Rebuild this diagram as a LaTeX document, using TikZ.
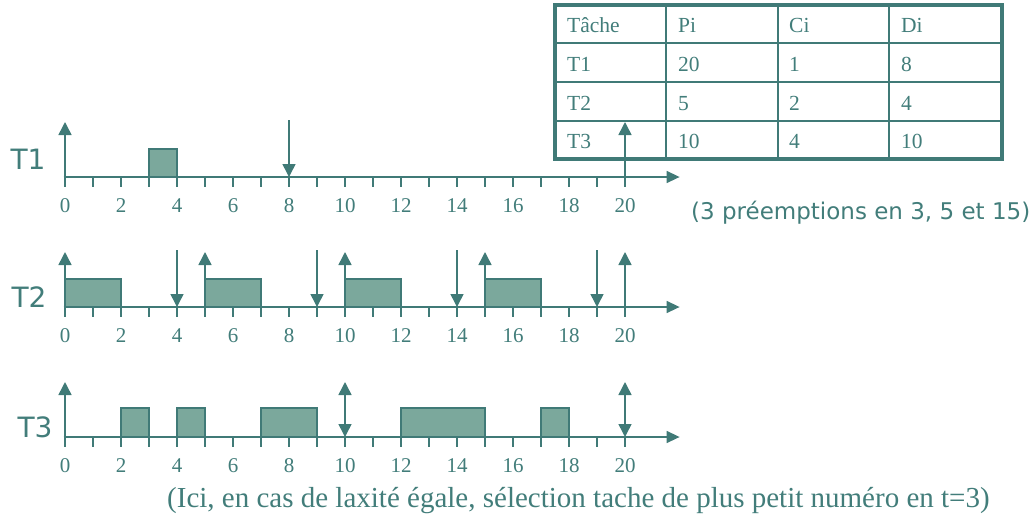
\documentclass[tikz,border=0pt]{standalone}
\usepackage{fontspec}
\setmainfont{Liberation Serif}
\newfontfamily\labelsans{DejaVu Sans}
\usetikzlibrary{arrows.meta}

\definecolor{tealline}{RGB}{64,122,119}
\definecolor{tealtext}{RGB}{66,125,122}
\definecolor{runfill}{RGB}{123,168,156}

\tikzset{
  tip/.tip={Triangle[length=13pt,width=13pt]},
  axisline/.style={draw=tealline,line width=1.5pt,-{Triangle[length=13pt,width=12pt]}},
  tickline/.style={draw=tealline,line width=1.3pt},
  uparrow/.style={draw=tealline,line width=1.5pt,-tip},
  downarrow/.style={draw=tealline,line width=1.5pt,-tip},
  bothways/.style={draw=tealline,line width=1.5pt,tip-tip},
  runbox/.style={draw=tealline,fill=runfill,line width=1.5pt},
  ticknum/.style={text=tealtext,font=\fontsize{21}{21}\selectfont,inner sep=0pt},
  tasklabel/.style={text=tealtext,font=\labelsans\fontsize{28}{28}\selectfont,inner sep=0pt,anchor=base},
  cell/.style={text=tealtext,font=\fontsize{21.5}{21.5}\selectfont,inner sep=0pt,anchor=base west},
  tableouter/.style={draw=tealline,line width=3.5pt},
  tableinner/.style={draw=tealline,line width=1.3pt},
  note/.style={text=tealtext,inner sep=0pt,anchor=base west},
}

\begin{document}
\begin{tikzpicture}[x=1pt,y=-1pt]
\useasboundingbox (0,0) rectangle (1036,515);

% ---- task table ----
\draw[tableinner] (666,5) -- (666,159) (778,5) -- (778,159) (889,5) -- (889,159);
\draw[tableinner] (555,43) -- (1002,43) (555,82) -- (1002,82) (555,121) -- (1002,121);
\draw[tableouter] (555,5) rectangle (1002,159);

\node[cell] (h0) at (567,32) {Tâche};
\node[cell] (h1) at (678,32) {Pi};
\node[cell] (h2) at (789,32) {Ci};
\node[cell] (h3) at (901,32) {Di};
\node[cell] (a0) at (567,71) {T1};
\node[cell] (a1) at (678,71) {20};
\node[cell] (a2) at (789,71) {1};
\node[cell] (a3) at (901,71) {8};
\node[cell] (b0) at (567,110) {T2};
\node[cell] (b1) at (678,110) {5};
\node[cell] (b2) at (789,110) {2};
\node[cell] (b3) at (901,110) {4};
\node[cell] (c0) at (567,148) {T3};
\node[cell] (c1) at (678,148) {10};
\node[cell] (c2) at (789,148) {4};
\node[cell] (c3) at (901,148) {10};

% ---- task labels ----
\node[tasklabel] (l1) at (28,169) {T1};
\node[tasklabel] (l2) at (29,307) {T2};
\node[tasklabel] (l3) at (35,437) {T3};

% ---- time axes (one scope per task) ----
\foreach \ay/\nm in {177/one,307/two,437/three}{
  \begin{scope}[shift={(65,\ay)},x=28pt]
    \foreach \t in {0,...,20} \draw[tickline] (\t,0) -- (\t,10);
    \draw[axisline] (-0.05,0) -- (21.95,0);
    \foreach \t in {0,2,...,20} \node[ticknum] (n\nm\t) at (\t,29) {\t};
  \end{scope}
}

% ---- T1 ----
\begin{scope}[shift={(65,177)},x=28pt]
  \draw[runbox] (3,0) rectangle (4,-28);
  \draw[uparrow] (0,0) -- (0,-55);
  \draw[downarrow] (8,-57) -- (8,0);
  \draw[uparrow] (20,0) -- (20,-55);
\end{scope}

% ---- T2 ----
\begin{scope}[shift={(65,307)},x=28pt]
  \foreach \s in {0,5,10,15} \draw[runbox] (\s,0) rectangle (\s+2,-28);
  \foreach \s in {0,5,10,15,20} \draw[uparrow] (\s,0) -- (\s,-55);
  \foreach \s in {4,9,14,19} \draw[downarrow] (\s,-57) -- (\s,0);
\end{scope}

% ---- T3 ----
\begin{scope}[shift={(65,437)},x=28pt]
  \foreach \a/\b in {2/3,4/5,7/9,12/15,17/18} \draw[runbox] (\a,0) rectangle (\b,-29);
  \draw[uparrow] (0,0) -- (0,-55);
  \draw[bothways] (10,0) -- (10,-55);
  \draw[bothways] (20,0) -- (20,-55);
\end{scope}

% ---- remarks ----
\node[note,font=\labelsans\fontsize{23}{23}\selectfont] (rem1) at (691,219) {(3 préemptions en 3, 5 et 15)};
\node[note,font=\fontsize{29}{29}\selectfont] (rem2) at (167,507) {(Ici, en cas de laxité égale, sélection tache de plus petit numéro en t=3)};
\end{tikzpicture}
\end{document}
